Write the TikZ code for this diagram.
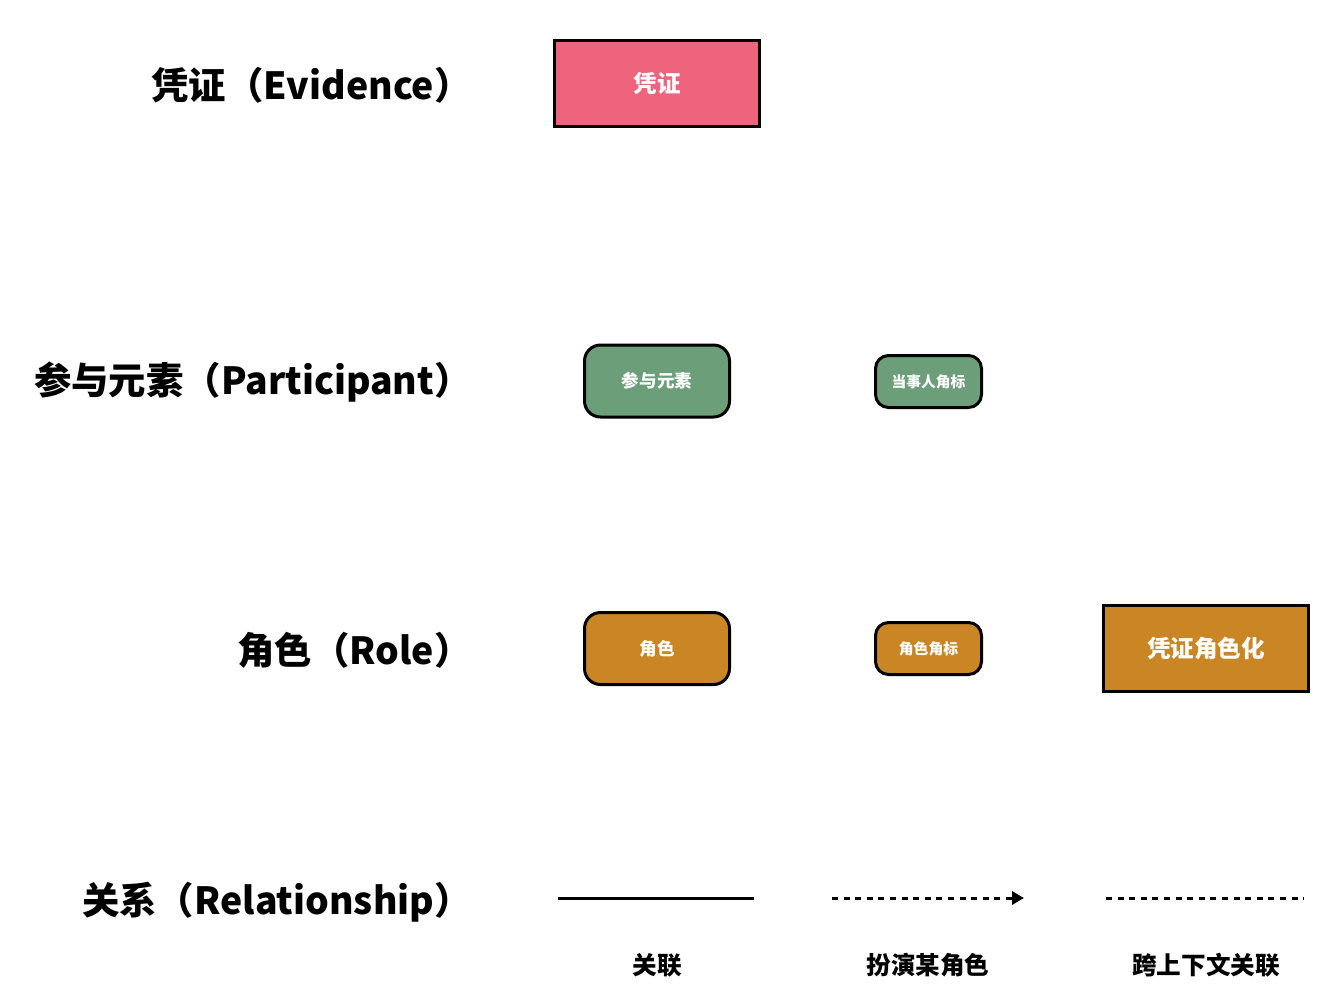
\documentclass[tikz,border=0pt]{standalone}
\usepackage{fontspec}
\usepackage{tikz}
\usetikzlibrary{arrows.meta}
\newfontfamily\cjk{Noto Sans CJK SC}
\definecolor{evpink}{RGB}{239,100,125}
\definecolor{ptgreen}{RGB}{108,158,121}
\definecolor{rlorange}{RGB}{202,133,36}
\newcommand{\fsz}[1]{\fontsize{#1}{#1}\selectfont}

\begin{document}
\begin{tikzpicture}[x=0.5pt,y=-0.5pt,>=Stealth,
      lbl/.style={anchor=east,inner sep=0pt,font=\cjk\bfseries\fsz{18.7}},
      rellbl/.style={inner sep=0pt,font=\cjk\bfseries\fsz{12.3}},
      box/.style={draw,line width=1.5pt,text=white,inner sep=0pt,align=center},
      bigbox/.style={box,minimum width=102.5pt,minimum height=43pt,font=\cjk\bfseries\fsz{11.8}},
      midbox/.style={box,rounded corners=8pt,minimum width=72.5pt,minimum height=36pt,font=\cjk\bfseries\fsz{8.8}},
      smallbox/.style={box,rounded corners=6.5pt,minimum width=53pt,minimum height=26pt,font=\cjk\bfseries\fsz{7.4}},
      rel/.style={line width=1.5pt}]
      \useasboundingbox (0,0) rectangle (1336,992);
      % row labels
      \node[lbl] (l-ev) at (472,85) {凭证（Evidence）};
      \node[lbl] (l-pt) at (472,382) {参与元素（Participant）};
      \node[lbl] (l-rl) at (472,650) {角色（Role）};
      \node[lbl] (l-rs) at (472,902) {关系（Relationship）};
      % evidence
      \node[bigbox,fill=evpink] (ev) at (657,83.5) {凭证};
      % participant
      \node[midbox,fill=ptgreen] (pt) at (657,381) {参与元素};
      \node[smallbox,fill=ptgreen] (pt-tag) at (928.5,381.5) {当事人角标};
      % role
      \node[midbox,fill=rlorange] (rl) at (657,648.5) {角色};
      \node[smallbox,fill=rlorange] (rl-tag) at (928.5,648.5) {角色角标};
      \node[bigbox,fill=rlorange] (ev-rl) at (1206,648.5) {凭证角色化};
      % relationships
      \coordinate (as-a) at (558,898);
      \coordinate (as-b) at (754,898);
      \coordinate (pl-a) at (832,898);
      \coordinate (pl-b) at (1024,898);
      \coordinate (cx-a) at (1106,898);
      \coordinate (cx-b) at (1304,898);
      \draw[rel] (as-a) -- (as-b);
      \draw[rel,dash pattern=on 3pt off 2.8pt,-{Triangle[length=6pt,width=6.5pt]}] (pl-a) -- (pl-b);
      \draw[rel,dash pattern=on 3pt off 2.8pt] (cx-a) -- (cx-b);
      \node[rellbl] (c-as) at (657,965) {关联};
      \node[rellbl] (c-pl) at (928,965) {扮演某角色};
      \node[rellbl] (c-cx) at (1206,965) {跨上下文关联};
    \end{tikzpicture}
\end{document}
